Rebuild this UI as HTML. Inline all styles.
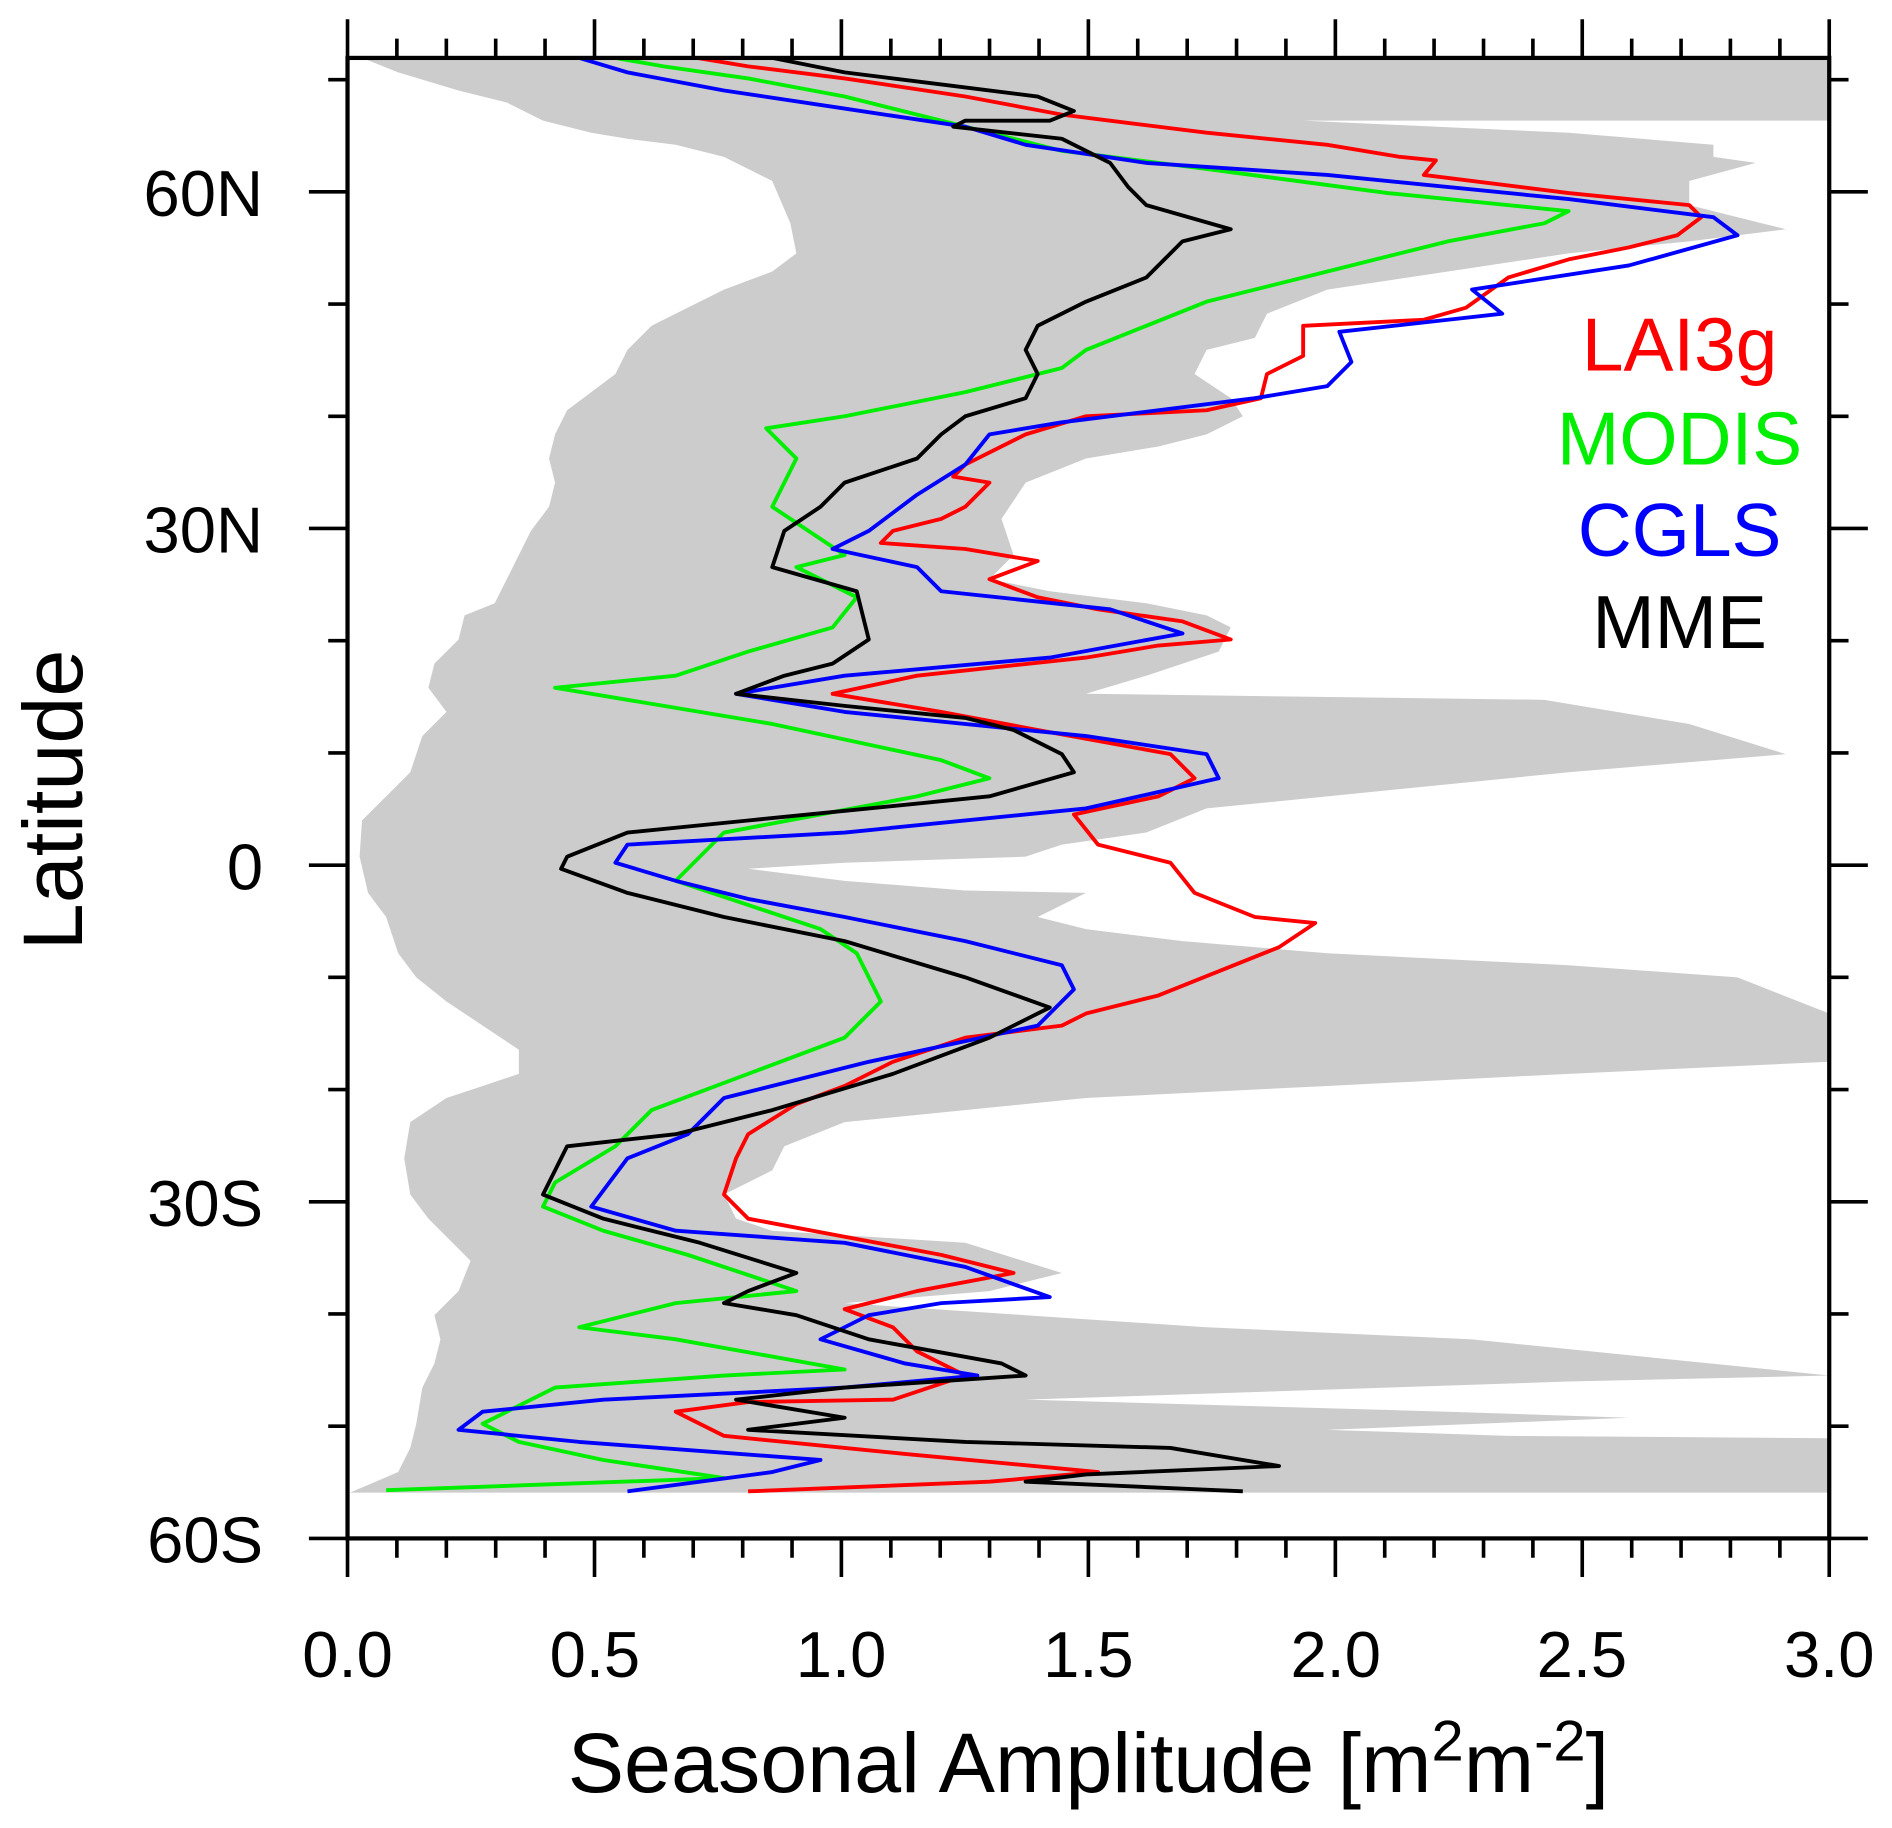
<!DOCTYPE html>
<html><head><meta charset="utf-8"><style>html,body{margin:0;padding:0;background:#fff}svg{display:block}</style></head>
<body>
<svg width="1892" height="1828" viewBox="0 0 1568 1515" xmlns="http://www.w3.org/2000/svg" font-family="Liberation Sans, Arial, sans-serif">
<rect width="1568" height="1515" fill="#fff"/>
<polygon fill="#cccccc" points="1516,48 1516,100 1080,100 1300,110 1420,120 1420,130 1455,135 1400,150 1400,170 1460,185 1480,190 1400,200 1300,210 1200,225 1100,240 1050,260 1040,280 1000,290 990,310 1020,330 1030,345 1000,360 960,370 900,380 850,400 830,430 840,460 820,480 870,490 950,500 1000,510 1020,520 1010,540 950,560 900,575 1280,580 1400,600 1480,625 1300,640 1100,660 1000,670 950,690 880,700 850,710 700,715 620,720 700,730 800,738 900,740 880,750 860,760 900,770 980,780 1100,790 1300,800 1440,810 1516,840 1516,880 1300,890 1100,900 900,910 700,930 650,950 640,970 600,990 610,1010 640,1020 800,1030 880,1055 820,1070 700,1080 850,1090 1000,1100 1220,1110 1516,1140 1300,1145 1000,1155 850,1160 1200,1170 1350,1175 1100,1185 1250,1190 1516,1192 1516,1237 290,1237 330,1220 340,1200 345,1180 350,1150 360,1130 365,1110 360,1090 380,1070 390,1045 375,1030 355,1010 340,990 335,960 340,930 370,910 400,900 430,890 430,870 400,850 370,830 345,810 330,790 320,760 305,740 298,710 300,680 320,660 340,640 350,610 370,590 355,570 360,550 380,530 385,510 410,500 420,480 430,460 440,440 455,420 460,400 455,380 460,360 470,340 490,325 510,310 520,290 540,270 570,255 600,240 640,225 660,210 655,185 640,150 600,130 560,120 520,115 490,110 450,100 420,85 380,75 330,60 300,48"/>
<g fill="none" stroke-width="3.2" stroke-linejoin="round">
<polyline stroke="#ff0000" points="578,48 620,55 700,65 800,80 880,95 920,100 1000,110 1100,120 1160,130 1190,133 1180,145 1300,160 1400,170 1410,180 1390,195 1350,205 1300,215 1250,230 1215,255 1180,265 1080,270 1080,295 1050,310 1045,330 1000,340 900,345 850,360 800,385 790,395 820,400 800,420 780,430 740,440 730,450 800,455 860,465 820,480 860,495 910,505 980,515 1020,530 960,535 900,545 760,560 690,575 780,590 860,605 970,625 990,645 960,660 890,675 910,700 970,715 990,740 1040,760 1090,765 1060,785 1010,805 960,825 900,840 880,850 800,860 740,880 700,900 660,915 620,940 610,960 600,990 620,1010 700,1025 780,1040 840,1055 760,1070 700,1085 740,1100 760,1120 800,1140 740,1160 620,1162 560,1170 600,1190 750,1205 910,1220 820,1228 620,1236"/>
<polyline stroke="#00ee00" points="510,48 550,55 620,65 700,80 780,100 820,110 880,125 1000,140 1150,160 1300,175 1280,185 1200,200 1100,225 1000,250 950,270 900,290 880,305 800,325 700,345 635,355 660,380 640,420 700,460 660,470 710,495 690,520 620,540 560,560 460,570 640,600 780,630 820,645 760,660 680,675 600,690 560,730 620,750 680,770 710,790 730,830 700,860 620,890 540,920 510,950 460,980 450,1000 500,1020 570,1040 660,1070 560,1080 480,1100 560,1110 700,1135 600,1140 460,1150 420,1170 400,1180 430,1195 500,1210 600,1225 320,1235"/>
<polyline stroke="#0000ff" points="480,48 520,60 600,75 700,90 800,105 850,120 950,135 1100,145 1300,165 1420,180 1440,195 1350,220 1220,240 1245,260 1200,265 1110,275 1120,300 1100,320 1040,330 880,350 820,360 800,385 760,410 720,440 690,455 760,470 780,490 920,505 980,525 870,545 700,560 610,575 700,590 900,610 1000,625 1010,645 900,670 700,690 520,700 510,715 560,730 620,745 700,760 800,780 880,800 890,820 860,850 720,880 600,910 570,940 520,960 490,1000 560,1020 700,1030 800,1050 870,1075 780,1080 720,1090 680,1110 750,1130 810,1140 700,1150 500,1160 400,1170 380,1185 480,1195 680,1210 640,1220 520,1236"/>
<polyline stroke="#000000" points="640,48 700,60 780,70 860,80 890,92 870,100 800,100 790,105 880,115 920,135 935,155 950,170 1020,190 980,200 950,230 900,250 860,270 850,290 860,310 850,330 800,345 780,360 760,380 700,400 680,420 650,440 640,470 710,490 720,530 690,550 650,560 610,575 700,585 800,595 840,605 880,625 890,640 820,660 720,670 620,680 520,690 470,710 465,720 520,740 600,760 700,780 800,810 870,835 820,860 740,890 640,920 560,940 470,950 450,990 500,1010 580,1030 660,1055 620,1070 600,1080 660,1090 720,1110 830,1130 850,1140 700,1150 610,1160 700,1175 620,1185 800,1195 970,1200 1060,1215 900,1222 850,1228 1030,1236"/>
</g>
<rect x="288" y="48" width="1228" height="1227" fill="none" stroke="#000" stroke-width="3.5"/>
<path stroke="#000" stroke-width="3" fill="none" d="
M288,1275v32M328.9,1275v16M369.9,1275v16M410.8,1275v16M451.7,1275v16M492.7,1275v32M533.6,1275v16M574.5,1275v16M615.5,1275v16M656.4,1275v16M697.3,1275v32M738.3,1275v16M779.2,1275v16M820.1,1275v16M861.1,1275v16M902,1275v32M942.9,1275v16M983.9,1275v16M1024.8,1275v16M1065.7,1275v16M1106.7,1275v32M1147.6,1275v16M1188.5,1275v16M1229.5,1275v16M1270.4,1275v16M1311.3,1275v32M1352.3,1275v16M1393.2,1275v16M1434.1,1275v16M1475.1,1275v16M1516,1275v32
M288,48v-32M328.9,48v-16M369.9,48v-16M410.8,48v-16M451.7,48v-16M492.7,48v-32M533.6,48v-16M574.5,48v-16M615.5,48v-16M656.4,48v-16M697.3,48v-32M738.3,48v-16M779.2,48v-16M820.1,48v-16M861.1,48v-16M902,48v-32M942.9,48v-16M983.9,48v-16M1024.8,48v-16M1065.7,48v-16M1106.7,48v-32M1147.6,48v-16M1188.5,48v-16M1229.5,48v-16M1270.4,48v-16M1311.3,48v-32M1352.3,48v-16M1393.2,48v-16M1434.1,48v-16M1475.1,48v-16M1516,48v-32
M288,1275h-32M288,1182h-16M288,1089h-16M288,996h-32M288,903h-16M288,810h-16M288,717h-32M288,624h-16M288,531h-16M288,438h-32M288,345h-16M288,252h-16M288,159h-32M288,66h-16
M1516,1275h32M1516,1182h16M1516,1089h16M1516,996h32M1516,903h16M1516,810h16M1516,717h32M1516,624h16M1516,531h16M1516,438h32M1516,345h16M1516,252h16M1516,159h32M1516,66h16"/>
<g font-size="54" text-anchor="end" fill="#000">
<text x="218" y="179">60N</text><text x="218" y="458">30N</text><text x="218" y="737">0</text><text x="218" y="1016">30S</text><text x="218" y="1295">60S</text>
</g>
<g font-size="54" text-anchor="middle" fill="#000">
<text x="288" y="1390">0.0</text><text x="493" y="1390">0.5</text><text x="697" y="1390">1.0</text><text x="902" y="1390">1.5</text><text x="1107" y="1390">2.0</text><text x="1311" y="1390">2.5</text><text x="1516" y="1390">3.0</text>
</g>
<text x="902" y="1485" font-size="70" text-anchor="middle">Seasonal Amplitude [m<tspan dy="-26" font-size="48">2</tspan><tspan dy="26">m</tspan><tspan dy="-26" font-size="48">-2</tspan><tspan dy="26">]</tspan></text>
<text transform="translate(68,663) rotate(-90)" font-size="70" text-anchor="middle">Latitude</text>
<g font-size="62" text-anchor="middle">
<text x="1392" y="307" fill="#ff0000">LAI3g</text>
<text x="1392" y="385" fill="#00ee00">MODIS</text>
<text x="1392" y="461" fill="#0000ff">CGLS</text>
<text x="1392" y="537" fill="#000">MME</text>
</g>
</svg>
</body></html>
